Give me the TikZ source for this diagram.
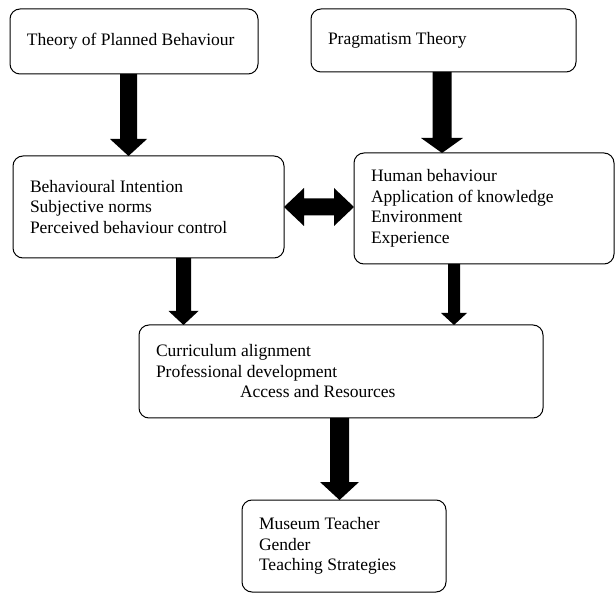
\documentclass[tikz,border=0pt]{standalone}
\usepackage{fontspec}
\setmainfont{Liberation Serif}
\usetikzlibrary{calc}

\begin{document}
\begin{tikzpicture}[
  x=1pt, y=-1pt,
  every node/.style={font=\fontsize{17.5}{20.5}\selectfont},
  box/.style={draw, line width=1pt, rounded corners=10pt, align=flush left,
    inner xsep=17pt, inner ysep=0pt, outer sep=0pt},
]
\useasboundingbox (0,0) rectangle (616,593);
% block arrow pointing down: start, end, half shaft, half head, head length
\def\downblk#1#2#3#4#5{%
  \fill ($(#1)+(-#3,0)$) -- ($(#1)+(#3,0)$) -- ($(#2)+(#3,-#5)$)
    -- ($(#2)+(#4,-#5)$) -- (#2) -- ($(#2)+(-#4,-#5)$)
    -- ($(#2)+(-#3,-#5)$) -- cycle;}
% Theories
\node[box, text width=214pt, minimum height=65pt] (tpb) at (134,41.5)
  {Theory of Planned Behaviour};
\node[box, text width=231pt, minimum height=63pt] (prag) at (443.5,40.5)
  {Pragmatism Theory};
% Constructs
\node[box, text width=237pt, minimum height=102pt] (intent) at (148.5,207)
  {Behavioural Intention\\Subjective norms\\Perceived behaviour control};
\node[box, text width=226pt, minimum height=111pt] (human) at (484,208.5)
  {Human behaviour\\Application of knowledge\\Environment\\Experience};
% Factors
\node[box, text width=370pt, minimum height=93pt] (curric) at (341,371.5)
  {Curriculum alignment\\Professional development\\\hspace*{84pt}Access and Resources};
% Outcome
\node[box, text width=170pt, minimum height=92pt] (museum) at (344,546)
  {Museum Teacher\\Gender\\Teaching Strategies};
% Arrows
\coordinate (s1) at ($(tpb.south)+(-5.5,0)$);
\coordinate (e1) at (s1 |- intent.north);
\downblk{s1}{e1}{8.5}{18.5}{17}
\coordinate (s2) at ($(prag.south)+(-1.5,0)$);
\coordinate (e2) at (s2 |- human.north);
\downblk{s2}{e2}{9.5}{21}{15}
\coordinate (s3) at ($(intent.south)+(35,0)$);
\coordinate (e3) at (s3 |- curric.north);
\downblk{s3}{e3}{7.5}{15}{14}
\coordinate (s4) at ($(human.south)+(-30,0)$);
\coordinate (e4) at (s4 |- curric.north);
\downblk{s4}{e4}{6}{13}{12}
\coordinate (s5) at ($(curric.south)+(-1.5,0)$);
\coordinate (e5) at (s5 |- museum.north);
\downblk{s5}{e5}{9.5}{19.5}{18}
% Two-way arrow
\coordinate (dr) at (human.west |- intent.east);
\fill (intent.east) -- ($(intent.east)+(20,-19)$) -- ($(intent.east)+(20,-8.5)$)
  -- ($(dr)+(-20,-8.5)$) -- ($(dr)+(-20,-19)$) -- (dr) -- ($(dr)+(-20,19)$)
  -- ($(dr)+(-20,8.5)$) -- ($(intent.east)+(20,8.5)$) -- ($(intent.east)+(20,19)$)
  -- cycle;
\end{tikzpicture}
\end{document}
